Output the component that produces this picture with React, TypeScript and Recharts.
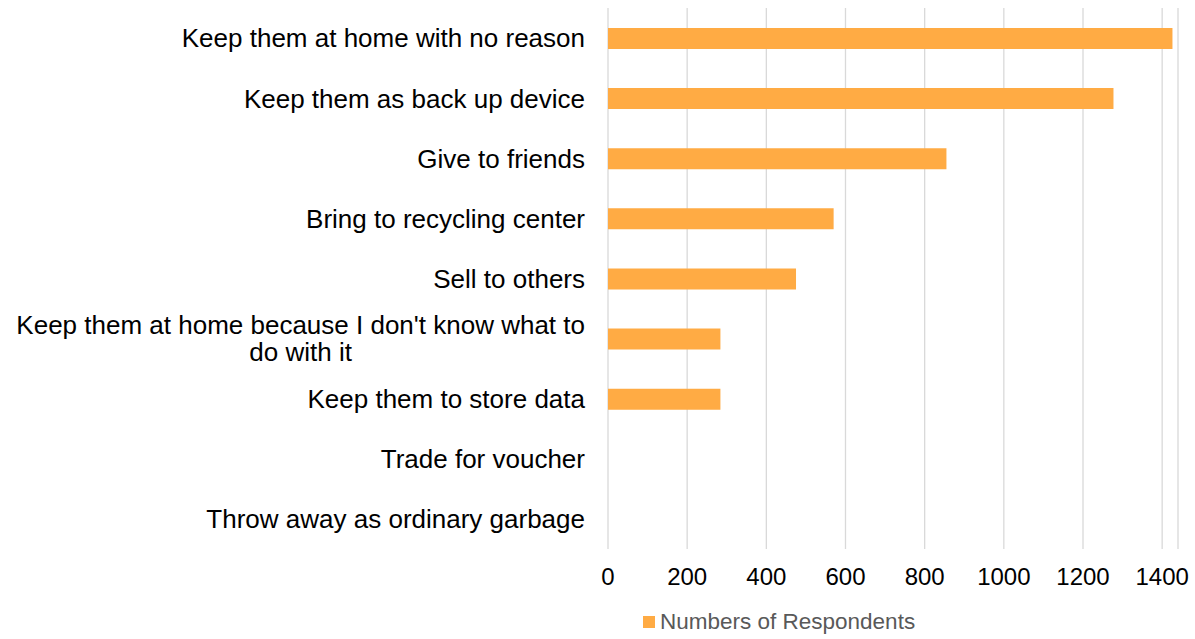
import React from 'react';
import { BarChart, Bar, XAxis, YAxis, CartesianGrid, Legend } from 'recharts';

const categories: string[] = [
  'Keep them at home with no reason',
  'Keep them as back up device',
  'Give to friends',
  'Bring to recycling center',
  'Sell to others',
  "Keep them at home because I don't know what to do with it",
  'Keep them to store data',
  'Trade for voucher',
  'Throw away as ordinary garbage',
];

const respondents: number[] = [1426, 1277, 855, 570, 475, 284, 284, 0, 0];

const xTicks: number[] = [0, 200, 400, 600, 800, 1000, 1200, 1400];

const seriesName = 'Numbers of Respondents';

const data = categories.map((c, i) => ({ category: c, value: respondents[i] }));

const FONT = '"Liberation Sans", Arial, sans-serif';
const LABEL_SIZE = 26;
const MAX_LABEL_WIDTH = 585;

let ctx: CanvasRenderingContext2D | null = null;
function measure(text: string): number {
  if (!ctx) {
    const c = document.createElement('canvas');
    ctx = c.getContext('2d');
  }
  if (!ctx) return text.length * LABEL_SIZE * 0.5;
  ctx.font = `${LABEL_SIZE}px "Liberation Sans"`;
  return ctx.measureText(text).width;
}

function wrap(text: string): string[] {
  const words = text.split(' ');
  const lines: string[] = [];
  let cur = '';
  for (const w of words) {
    const next = cur ? cur + ' ' + w : w;
    if (measure(next) > MAX_LABEL_WIDTH && cur) {
      lines.push(cur);
      cur = w;
    } else {
      cur = next;
    }
  }
  if (cur) lines.push(cur);
  return lines;
}

const CategoryTick = (props: any) => {
  const { x, y, payload } = props;
  const lines = wrap(String(payload.value));
  const lineH = 27;
  if (lines.length === 1) {
    return (
      <text x={x} y={y} dy="0.36em" textAnchor="end" fontSize={LABEL_SIZE} fontFamily={FONT} fill="#000">
        {lines[0]}
      </text>
    );
  }
  const widest = Math.max(...lines.map(measure));
  const cx = x - widest / 2;
  const startY = y - ((lines.length - 1) * lineH) / 2;
  return (
    <text textAnchor="middle" fontSize={LABEL_SIZE} fontFamily={FONT} fill="#000">
      {lines.map((l, i) => (
        <tspan key={i} x={cx} y={startY + i * lineH} dy="0.36em">
          {l}
        </tspan>
      ))}
    </text>
  );
};

const LegendContent = () => (
  <div style={{ display: 'flex', alignItems: 'center', height: 30, fontFamily: FONT, fontSize: 22.5, color: '#595959' }}>
    <span style={{ display: 'inline-block', width: 12, height: 12, background: '#FFAB44', marginRight: 5 }} />
    <span>{seriesName}</span>
  </div>
);

export default function App() {
  return (
    <div style={{ position: 'absolute', left: 0, top: 0, width: 1195, height: 639, background: '#fff' }}>
      <BarChart
        width={1195}
        height={639}
        data={data}
        layout="vertical"
        margin={{ top: 8, right: 17, bottom: 2, left: 0 }}
        barCategoryGap={0}
      >
        <CartesianGrid horizontal={false} stroke="#d9d9d9" strokeWidth={1.3} />
        <XAxis
          type="number"
          domain={[0, 1440]}
          ticks={xTicks}
          axisLine={false}
          tickLine={false}
          tickSize={0}
          tickMargin={19}
          height={58}
          tick={{ fontSize: 24, fontFamily: FONT, fill: '#000' }}
        />
        <YAxis
          type="category"
          dataKey="category"
          width={608}
          axisLine={false}
          tickLine={false}
          tickSize={0}
          tickMargin={23}
          interval={0}
          tick={<CategoryTick />}
        />
        <Legend
          verticalAlign="bottom"
          align="left"
          height={30}
          wrapperStyle={{ left: 643, width: 320 }}
          content={<LegendContent />}
        />
        <Bar dataKey="value" name={seriesName} fill="#FFAB44" barSize={21} isAnimationActive={false} />
      </BarChart>
    </div>
  );
}
